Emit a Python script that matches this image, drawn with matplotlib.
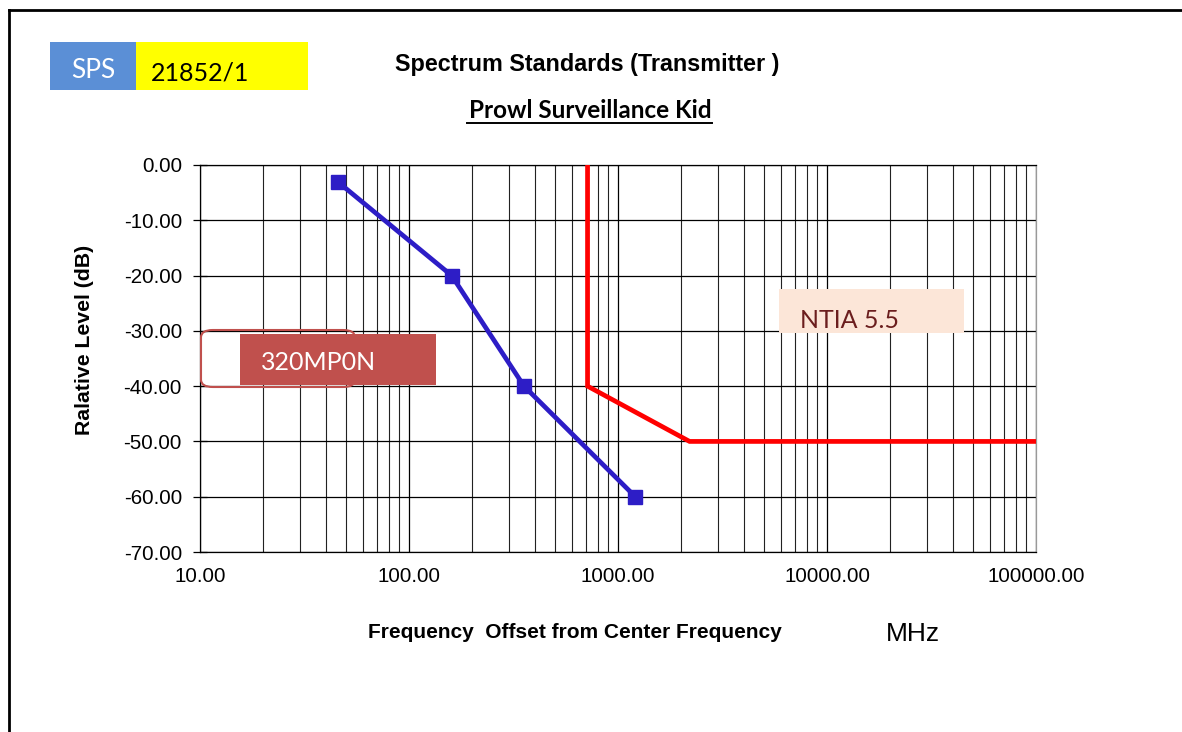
import matplotlib
matplotlib.use('Agg')
import matplotlib.pyplot as plt
from matplotlib.patches import Rectangle, FancyBboxPatch
from matplotlib.lines import Line2D
from matplotlib.ticker import FixedLocator, LogLocator, NullFormatter, FuncFormatter

# data
blue_freq = [45.5, 160, 355, 1210]
blue_level = [-3, -20, -40, -60]
red_freq = [715, 715, 2200, 100000]
red_level = [0, -40, -50, -50]
y_ticks = [0, -10, -20, -30, -40, -50, -60, -70]
x_ticks = [10, 100, 1000, 10000, 100000]

W, H = 1182, 732
fig = plt.figure(figsize=(W / 100, H / 100), dpi=100)
fig.patch.set_facecolor('white')


def fx(px):
    return px / W


def fy(py):
    return 1 - py / H


ax = fig.add_axes([fx(200), fy(552), fx(1036) - fx(200), fy(165) - fy(552)])
ax.set_xscale('log')
ax.set_xlim(10, 100000)
ax.set_ylim(-70, 0)

ax.xaxis.set_major_locator(FixedLocator(x_ticks))
ax.xaxis.set_minor_locator(LogLocator(base=10, subs=range(2, 10)))
ax.xaxis.set_minor_formatter(NullFormatter())
ax.xaxis.set_major_formatter(FuncFormatter(lambda v, p: '%.2f' % v))
ax.yaxis.set_major_locator(FixedLocator(y_ticks))
ax.yaxis.set_major_formatter(FuncFormatter(lambda v, p: '%.2f' % v))

ax.grid(True, which='major', color='black', linewidth=0.9)
ax.grid(True, which='minor', axis='x', color='#222222', linewidth=0.8)
ax.tick_params(axis='x', which='both', length=0, pad=11)
ax.tick_params(axis='y', which='major', direction='inout', length=10, width=0.9, pad=8)
for lab in ax.get_xticklabels() + ax.get_yticklabels():
    lab.set_family('Liberation Sans')
    lab.set_fontsize(14.8)
for s in ax.spines.values():
    s.set_linewidth(0.9)
ax.spines['right'].set_color('#999999')

ax.plot(red_freq, red_level, color='#FF0000', linewidth=3.4, solid_joinstyle='miter', zorder=4)
ax.plot(blue_freq, blue_level, color='#2D1DC6', linewidth=3.4, marker='s', markersize=9.5, zorder=5)

# 320MP0N box
fig.patches.append(FancyBboxPatch((fx(201), fy(387)), fx(355) - fx(201), fy(330) - fy(387),
                                  boxstyle='round,pad=0,rounding_size=0.01',
                                  transform=fig.transFigure, fill=False,
                                  edgecolor='#C0504D', linewidth=1.5, zorder=6))
fig.patches.append(Rectangle((fx(240), fy(385)), fx(436) - fx(240), fy(334) - fy(385),
                             transform=fig.transFigure, facecolor='#C0504D',
                             edgecolor='none', zorder=7))
fig.text(fx(319), fy(362), '320MP0N', color='white', fontsize=18, family='Lato',
         ha='center', va='center', zorder=8)

# NTIA box
fig.patches.append(Rectangle((fx(779), fy(333)), fx(964) - fx(779), fy(289) - fy(333),
                             transform=fig.transFigure, facecolor='#FCE6D8',
                             edgecolor='none', zorder=7))
fig.text(fx(850), fy(320), 'NTIA 5.5', color='#6B1E1E', fontsize=18, family='Lato',
         ha='center', va='center', zorder=8)

# SPS label
fig.patches.append(Rectangle((fx(50), fy(90)), fx(136) - fx(50), fy(42) - fy(90),
                             transform=fig.transFigure, facecolor='#5B8FD6', edgecolor='none'))
fig.patches.append(Rectangle((fx(136), fy(90)), fx(308) - fx(136), fy(42) - fy(90),
                             transform=fig.transFigure, facecolor='#FFFF00', edgecolor='none'))
fig.text(fx(93), fy(70), 'SPS', color='white', fontsize=19, family='Lato',
         ha='center', va='center')
fig.text(fx(151), fy(73), '21852/1', color='black', fontsize=18, family='Lato',
         ha='left', va='center')

# titles
fig.text(fx(587), fy(64), 'Spectrum Standards (Transmitter )', fontsize=16.8,
         family='Liberation Sans', weight='bold', ha='center', va='center')
fig.text(fx(590), fy(111), 'Prowl Surveillance Kid', fontsize=17.5,
         family='Lato', weight='bold', ha='center', va='center')
fig.lines.append(Line2D([fx(467), fx(712)], [fy(123), fy(123)], transform=fig.transFigure,
                        color='black', linewidth=1.4))

fig.text(fx(85), fy(340), 'Ralative Level (dB)', fontsize=15.3, family='Liberation Sans',
         weight='bold', rotation=90, ha='center', va='center')
fig.text(fx(575), fy(632), 'Frequency  Offset from Center Frequency', fontsize=15,
         family='Liberation Sans', weight='bold', ha='center', va='center')
fig.text(fx(913), fy(634), 'MHz', fontsize=19, family='Liberation Sans',
         ha='center', va='center')

# page frame
fig.lines.append(Line2D([fx(9), fx(1182)], [fy(10), fy(10)], transform=fig.transFigure,
                        color='black', linewidth=2))
fig.lines.append(Line2D([fx(9), fx(9)], [fy(10), fy(732)], transform=fig.transFigure,
                        color='black', linewidth=2))

fig.savefig('out.png', dpi=100)
